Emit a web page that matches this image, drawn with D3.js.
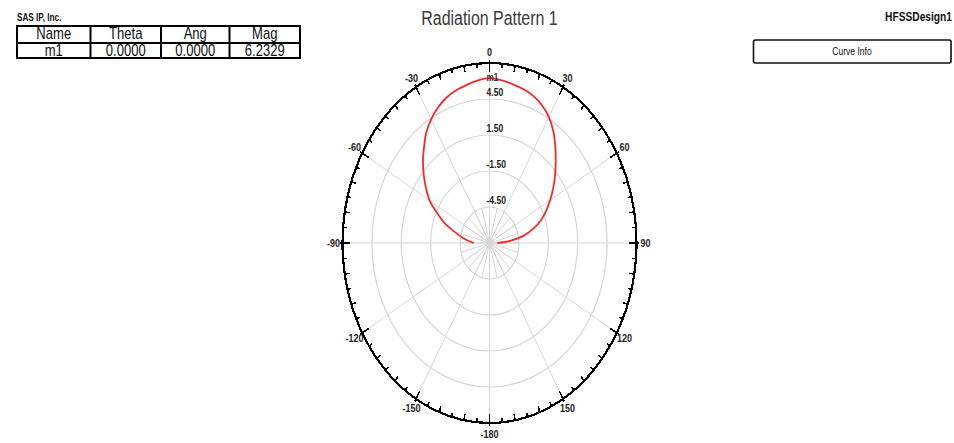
<!DOCTYPE html>
<html>
<head>
<meta charset="utf-8">
<script src="https://cdnjs.cloudflare.com/ajax/libs/d3/7.8.5/d3.min.js"></script>
<style>
  html, body { margin: 0; padding: 0; background: #fff; }
  svg { display: block; font-family: "Liberation Sans", Arial, sans-serif; }
</style>
</head>
<body>
<svg id="chart" width="954" height="443"></svg>
<script>
// Far-field cut: theta (deg) and gain (dB)
const thetaDeg = [-90, -85, -80, -75, -70, -65, -60, -55, -50, -45, -40, -35, -30, -25, -20, -15, -10, -5,
                  0, 5, 10, 15, 20, 25, 30, 35, 40, 45, 50, 55, 60, 65, 70, 75, 80, 85, 90];
const gainDb = [-5.9, -5.3, -4.6, -3.75, -2.6, -1.6, -0.45, 0.4, 1.25, 2.1, 2.9, 3.75, 4.4, 4.95, 5.38, 5.68, 5.88, 6.1,
                6.2329, 6.12, 5.95, 5.78, 5.55, 5.17, 4.62, 3.86, 2.95, 2.05, 1.23, 0.43, -0.35, -1.11, -1.89, -2.87, -3.95, -5.3, -6.7];

// Radial grid rings and their labels
const ringValues = [-4.5, -1.5, 1.5, 4.5];
const ringLabels = ["-4.50", "-1.50", "1.50", "4.50"];

// Angular tick labels every 30 degrees
const angleTickValues = [0, 30, 60, 90, 120, 150, 180, 210, 240, 270, 300, 330];
const angleTickLabels = ["0", "30", "60", "90", "120", "150", "-180", "-150", "-120", "-90", "-60", "-30"];

// Marker table
const tableHeader = ["Name", "Theta", "Ang", "Mag"];
const tableRow = ["m1", "0.0000", "0.0000", "6.2329"];
const markerName = "m1";
const markerTheta = 0;
const markerMag = 6.2329;

const radialDomain = [-7.5, 7.5];

// ---------------------------------------------------------------
const sx = 147 / 180;              // horizontal compression of the whole drawing
const X = a => a / sx;             // page x -> drawing x

const svg = d3.select("#chart");
const g = svg.append("g").attr("transform", `scale(${sx},1)`);

const cx = X(489.5), cy = 243, R = 180;
const rScale = d3.scaleLinear().domain(radialDomain).range([0, R]);
const rad = d => d * Math.PI / 180;

// Titles
g.append("text").attr("x", cx).attr("y", 25).attr("text-anchor", "middle")
  .attr("font-size", 19.5).attr("fill", "#3a3a3a").text("Radiation Pattern 1");
g.append("text").attr("x", X(17)).attr("y", 21).attr("font-size", 10).attr("font-weight", "bold")
  .attr("fill", "#111").text("SAS IP, Inc.");
g.append("text").attr("x", X(952)).attr("y", 21).attr("text-anchor", "end")
  .attr("font-size", 12.5).attr("font-weight", "bold")
  .attr("fill", "#111").text("HFSSDesign1");

// Curve Info box
g.append("rect").attr("x", X(753.5)).attr("y", 40).attr("width", X(951) - X(753.5)).attr("height", 23)
  .attr("rx", 2).attr("fill", "none").attr("stroke", "#111").attr("stroke-width", 1.6)
  .attr("vector-effect", "non-scaling-stroke");
g.append("text").attr("x", X(852)).attr("y", 55.5).attr("text-anchor", "middle")
  .attr("font-size", 10.5).attr("fill", "#111").text("Curve Info");

// Marker table
const colEdges = [17, 90.5, 161, 229.5, 300].map(X);
const rowEdges = [26, 43, 58];
const tbl = g.append("g");
tbl.append("rect").attr("x", colEdges[0]).attr("y", rowEdges[0])
  .attr("width", colEdges[4] - colEdges[0]).attr("height", rowEdges[2] - rowEdges[0])
  .attr("fill", "none").attr("stroke", "#000").attr("stroke-width", 2).attr("vector-effect", "non-scaling-stroke");
tbl.selectAll("line.col").data(colEdges.slice(1, 4)).join("line")
  .attr("x1", d => d).attr("x2", d => d).attr("y1", rowEdges[0]).attr("y2", rowEdges[2])
  .attr("stroke", "#000").attr("stroke-width", 2).attr("vector-effect", "non-scaling-stroke");
tbl.append("line").attr("x1", colEdges[0]).attr("x2", colEdges[4]).attr("y1", rowEdges[1]).attr("y2", rowEdges[1])
  .attr("stroke", "#000").attr("stroke-width", 2).attr("vector-effect", "non-scaling-stroke");
[tableHeader, tableRow].forEach((row, ri) => {
  tbl.selectAll(null).data(row).join("text")
    .attr("x", (d, i) => (colEdges[i] + colEdges[i + 1]) / 2)
    .attr("y", (rowEdges[ri] + rowEdges[ri + 1]) / 2 + (ri === 0 ? 4.2 : 5.4))
    .attr("text-anchor", "middle").attr("font-size", 16).attr("fill", "#111")
    .text(d => d);
});

// Polar area
const p = g.append("g").attr("transform", `translate(${cx},${cy})`);

// Spokes: fine ones around the centre, 30-degree ones across the whole plot
p.selectAll("line.fine").data(d3.range(0, 360, 15)).join("line")
  .attr("x1", 0).attr("y1", 0)
  .attr("x2", d => rScale(ringValues[0]) * Math.sin(rad(d)))
  .attr("y2", d => -rScale(ringValues[0]) * Math.cos(rad(d)))
  .attr("stroke", "#d6d6d6").attr("stroke-width", 1).attr("vector-effect", "non-scaling-stroke");
p.selectAll("line.spoke").data(angleTickValues).join("line")
  .attr("x1", 0).attr("y1", 0)
  .attr("x2", d => R * Math.sin(rad(d))).attr("y2", d => -R * Math.cos(rad(d)))
  .attr("stroke", "#d6d6d6").attr("stroke-width", 1).attr("vector-effect", "non-scaling-stroke");

// Rings
p.selectAll("circle.ring").data(ringValues).join("circle")
  .attr("r", d => rScale(d)).attr("fill", "none")
  .attr("stroke", "#d6d6d6").attr("stroke-width", 1.2).attr("vector-effect", "non-scaling-stroke");

// Radiation curve
const line = d3.lineRadial()
  .angle((d, i) => rad(thetaDeg[i]))
  .radius(d => rScale(d))
  .curve(d3.curveCatmullRom);
p.append("path").datum(gainDb).attr("d", line)
  .attr("fill", "none").attr("stroke", "#f42a2a").attr("stroke-width", 1.8)
  .attr("vector-effect", "non-scaling-stroke");

// Outer boundary and ticks
p.append("circle").attr("r", R).attr("fill", "none").attr("stroke", "#000").attr("stroke-width", 2.2)
  .attr("vector-effect", "non-scaling-stroke").attr("shape-rendering", "crispEdges");
const ticks = d3.range(0, 360, 5);
p.selectAll("line.tick").data(ticks).join("line")
  .attr("x1", d => (d % 30 === 0 ? R + 3 : R) * Math.sin(rad(d)))
  .attr("y1", d => -(d % 30 === 0 ? R + 3 : R) * Math.cos(rad(d)))
  .attr("x2", d => (R - (d % 30 === 0 ? 9 : (d % 10 === 0 ? 6 : 4.5))) * Math.sin(rad(d)))
  .attr("y2", d => -(R - (d % 30 === 0 ? 9 : (d % 10 === 0 ? 6 : 4.5))) * Math.cos(rad(d)))
  .attr("stroke", "#000").attr("stroke-width", 1.6)
  .attr("vector-effect", "non-scaling-stroke").attr("shape-rendering", "crispEdges");

// Angle labels
const labR = R + 11;
g.selectAll("text.ang").data(angleTickValues).join("text")
  .attr("x", (d) => cx + labR * Math.sin(rad(d)))
  .attr("y", (d) => cy - labR * Math.cos(rad(d)))
  .attr("dy", "0.36em").attr("text-anchor", "middle")
  .attr("font-size", 11).attr("font-weight", "bold").attr("fill", "#222")
  .text((d, i) => angleTickLabels[i]);

// Ring labels
g.selectAll("text.ring").data(ringValues).join("text")
  .attr("x", cx - X(3)).attr("y", d => cy - rScale(d) - 3)
  .attr("font-size", 10.5).attr("font-weight", "bold").attr("fill", "#222")
  .text((d, i) => ringLabels[i]);

// Marker label
g.append("text")
  .attr("x", cx + rScale(markerMag) * Math.sin(rad(markerTheta)) - X(3))
  .attr("y", cy - rScale(markerMag) * Math.cos(rad(markerTheta)) + 3)
  .attr("font-size", 10).attr("font-weight", "bold").attr("fill", "#333").text(markerName);
</script>
</body>
</html>
